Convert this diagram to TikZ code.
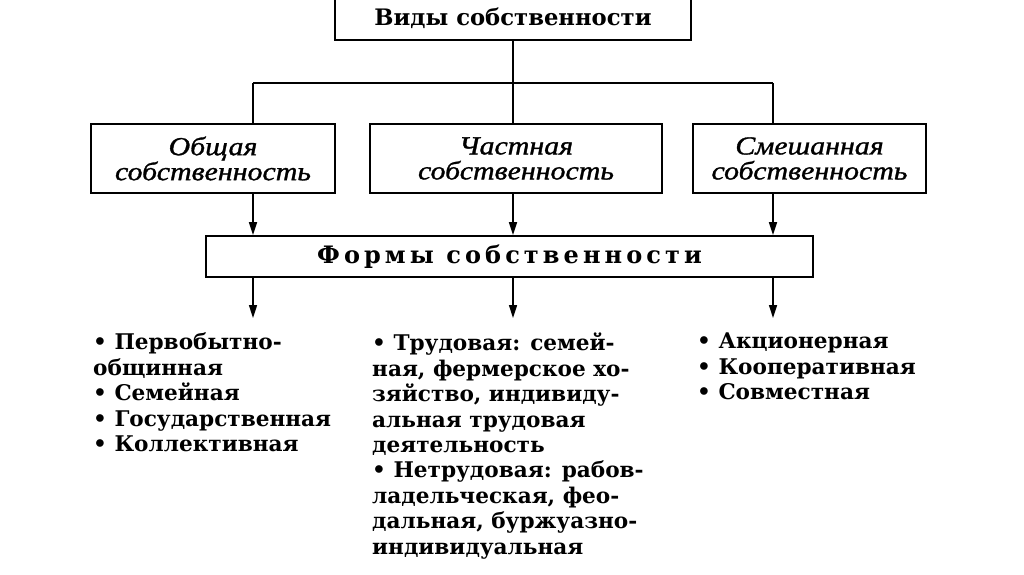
\documentclass[tikz,border=0pt]{standalone}
\usepackage{fontspec}
\setmainfont{DejaVu Serif}
\newfontfamily\rowfont{Liberation Serif}[ItalicFeatures={FakeBold=1.2,FakeStretch=1.15}]
\newfontfamily\formfont{DejaVu Serif}[LetterSpace=17]
\usetikzlibrary{arrows.meta,positioning,calc}

\begin{document}
\begin{tikzpicture}[
    x=1pt, y=-1pt,
    box/.style={rectangle, draw=black, line width=1.8pt, align=center, inner sep=0pt},
    topbox/.style={box, minimum width=356pt, minimum height=48pt, text height=33pt, text depth=15pt, font=\fontsize{22.7}{26}\selectfont\bfseries},
    kindbox/.style={box, minimum height=69pt, font=\rowfont\itshape\fontsize{26}{25}\selectfont},
    formbox/.style={box, minimum width=607pt, minimum height=41pt, font=\formfont\fontsize{24}{26}\selectfont\bfseries},
    list/.style={anchor=north west, align=left, inner sep=0pt, font=\fontsize{21.6}{25.4}\selectfont\bfseries},
    line/.style={line width=1.6pt},
    arrow/.style={line, -{Triangle[width=8pt,length=13pt]}}
]
    \useasboundingbox (0,0) rectangle (1024,574);

    \node [topbox] (vid) at (513,16) {Виды собственности};
    \node [kindbox, minimum width=244pt] (common) at (213,158.5) {Общая\\собственность};
    \node [kindbox, minimum width=292pt] (private) at (516,158.5) {Частная\\собственность};
    \node [kindbox, minimum width=233pt] (mixed) at (809.5,158.5) {Смешанная\\собственность};
    \node [formbox] (forms) at (509.5,256.5) {Формы собственности};

    % branch points and arrow ends
    \coordinate (b1) at (253,83);
    \coordinate (b2) at (513,83);
    \coordinate (b3) at (773,83);
    \coordinate (e1) at (253,318);
    \coordinate (e2) at (513,318);
    \coordinate (e3) at (773,318);

    \draw [line] (vid.south) -- (b2);
    \draw [line] (b1) -- (b3);
    \foreach \i/\n in {1/common,2/private,3/mixed} {
        \draw [line] (b\i) -- (b\i |- \n.north);
        \draw [arrow] (b\i |- \n.south) -- (b\i |- forms.north);
        \draw [arrow] (b\i |- forms.south) -- (e\i);
    }

    \node [list] (list1) at (93,333) {• Первобытно-\\общинная\\• Семейная\\• Государственная\\• Коллективная};
    \node [list] (list2) at (372,333) {• Трудовая: семей-\\ная, фермерское хо-\\зяйство, индивиду-\\альная трудовая\\деятельность\\• Нетрудовая: рабов-\\ладельческая, фео-\\дальная, буржуазно-\\индивидуальная};
    \node [list] (list3) at (697,333) {• Акционерная\\• Кооперативная\\• Совместная};
\end{tikzpicture}
\end{document}
